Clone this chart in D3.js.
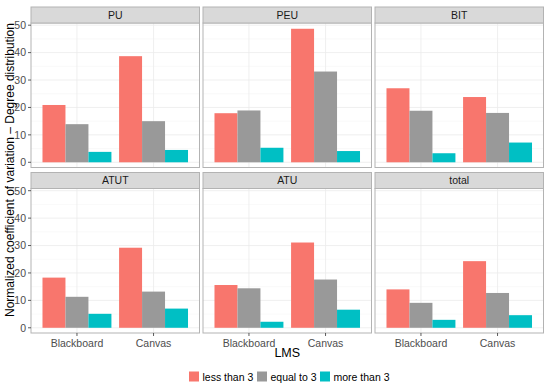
<!DOCTYPE html>
<html>
<head>
<meta charset="utf-8">
<script src="https://cdn.jsdelivr.net/npm/d3@7"></script>
<style>
	body { margin: 0; background: #fff; }
	text { font-family: "Liberation Sans", Arial, sans-serif; }
</style>
</head>
<body>
<div class="chart"></div>
<script>
const facets = ['PU', 'PEU', 'BIT', 'ATUT', 'ATU', 'total'];
const lms = ['Blackboard', 'Canvas'];
const groups = ['less than 3', 'equal to 3', 'more than 3'];
const colors = ['#F8766D', '#999999', '#00BFC4'];
const yTicks = [0, 10, 20, 30, 40, 50];

// values per facet: [Blackboard, Canvas]
const lessThan3 = [[20.9, 38.7], [17.9, 48.7], [27.0, 23.8], [18.3, 29.2], [15.6, 31.1], [14.0, 24.3]];
const equalTo3 = [[13.9, 15.0], [18.9, 33.1], [18.8, 18.0], [11.3, 13.2], [14.4, 17.6], [9.1, 12.7]];
const moreThan3 = [[3.8, 4.5], [5.3, 4.1], [3.3, 7.2], [5.1, 7.0], [2.2, 6.6], [2.9, 4.6]];

const series = [lessThan3, equalTo3, moreThan3];

const width = 550;
const height = 389;
const svg = d3.select('.chart')
	.append('svg')
	.attr('width', width)
	.attr('height', height);

const colX = [31, 203, 375];
const panelW = 168.5;
const rowY = [7, 172.5];
const stripH = 16;
const panelH = 144.5;

// ggplot discrete: 0.6 units expansion each side, bars 0.9 wide
const x = d3.scalePoint()
	.domain(lms)
	.range([0.6 * panelW / 2.2, 1.6 * panelW / 2.2]);
const unit = panelW / 2.2;
const xSub = d3.scaleBand().domain(groups).range([-0.45 * unit, 0.45 * unit]);

const y = d3.scaleLinear().domain([-1.9, 50.8]).range([panelH, 0]);
const yMinor = [5, 15, 25, 35, 45];

facets.forEach(function(f, fi) {
	const col = fi % 3;
	const row = Math.floor(fi / 3);
	const g = svg.append('g')
		.attr('transform', 'translate(' + colX[col] + ',' + (rowY[row] + stripH) + ')');

	// strip
	svg.append('rect')
		.attr('x', colX[col])
		.attr('y', rowY[row])
		.attr('width', panelW)
		.attr('height', stripH)
		.attr('fill', '#D9D9D9')
		.attr('stroke', '#B3B3B3')
		.attr('stroke-width', 1);
	svg.append('text')
		.attr('x', colX[col] + panelW / 2)
		.attr('y', rowY[row] + stripH / 2 + 3.7)
		.attr('text-anchor', 'middle')
		.attr('font-size', '10.5px')
		.attr('fill', '#1A1A1A')
		.text(f);

	// grid
	g.selectAll('.minor')
		.data(yMinor)
		.enter()
		.append('line')
		.attr('x1', 0).attr('x2', panelW)
		.attr('y1', function(d) { return y(d); })
		.attr('y2', function(d) { return y(d); })
		.attr('stroke', '#F2F2F2')
		.attr('stroke-width', 0.5);
	g.selectAll('.major')
		.data(yTicks)
		.enter()
		.append('line')
		.attr('x1', 0).attr('x2', panelW)
		.attr('y1', function(d) { return y(d); })
		.attr('y2', function(d) { return y(d); })
		.attr('stroke', '#EBEBEB')
		.attr('stroke-width', 0.8);
	g.selectAll('.vgrid')
		.data(lms)
		.enter()
		.append('line')
		.attr('x1', function(d) { return x(d); })
		.attr('x2', function(d) { return x(d); })
		.attr('y1', 0).attr('y2', panelH)
		.attr('stroke', '#EBEBEB')
		.attr('stroke-width', 0.8);

	// bars
	series.forEach(function(s, si) {
		g.selectAll('.bar' + si)
			.data(s[fi])
			.enter()
			.append('rect')
			.attr('x', function(d, i) { return x(lms[i]) + xSub(groups[si]); })
			.attr('y', function(d) { return y(d); })
			.attr('width', xSub.bandwidth())
			.attr('height', function(d) { return y(0) - y(d); })
			.attr('fill', colors[si]);
	});

	// border
	g.append('rect')
		.attr('width', panelW)
		.attr('height', panelH)
		.attr('fill', 'none')
		.attr('stroke', '#B3B3B3')
		.attr('stroke-width', 1);

	// y axis on left column
	if (col == 0) {
		g.selectAll('.ytick')
			.data(yTicks)
			.enter()
			.append('line')
			.attr('x1', -3).attr('x2', 0)
			.attr('y1', function(d) { return y(d); })
			.attr('y2', function(d) { return y(d); })
			.attr('stroke', '#333333')
			.attr('stroke-width', 0.8);
		g.selectAll('.ylab')
			.data(yTicks)
			.enter()
			.append('text')
			.attr('x', -5)
			.attr('y', function(d) { return y(d) + 3.8; })
			.attr('text-anchor', 'end')
			.attr('font-size', '10.5px')
			.attr('fill', '#4D4D4D')
			.text(function(d) { return d; });
	}

	// x axis on bottom row
	if (row == 1) {
		g.selectAll('.xtick')
			.data(lms)
			.enter()
			.append('line')
			.attr('x1', function(d) { return x(d); })
			.attr('x2', function(d) { return x(d); })
			.attr('y1', panelH).attr('y2', panelH + 3)
			.attr('stroke', '#333333')
			.attr('stroke-width', 0.8);
		g.selectAll('.xlab')
			.data(lms)
			.enter()
			.append('text')
			.attr('x', function(d) { return x(d); })
			.attr('y', panelH + 14)
			.attr('text-anchor', 'middle')
			.attr('font-size', '10.5px')
			.attr('fill', '#4D4D4D')
			.text(function(d) { return d; });
	}
});

// axis titles
svg.append('text')
	.attr('x', (colX[0] + colX[2] + panelW) / 2)
	.attr('y', 357)
	.attr('text-anchor', 'middle')
	.attr('font-size', '12.5px')
	.attr('fill', '#000')
	.text('LMS');
svg.append('text')
	.attr('transform', 'translate(14,170) rotate(-90)')
	.attr('text-anchor', 'middle')
	.attr('font-size', '12px')
	.attr('fill', '#000')
	.text('Normalized coefficient of variation \u2013 Degree distribution');

// legend
const legendX = [189, 257, 320];
const legend = svg.selectAll('.legend')
	.data(groups)
	.enter()
	.append('g')
	.attr('class', 'legend')
	.attr('transform', function(d, i) { return 'translate(' + legendX[i] + ',371.5)'; });
legend.append('rect')
	.attr('width', 10)
	.attr('height', 10)
	.attr('fill', function(d, i) { return colors[i]; });
legend.append('text')
	.attr('x', 13.5)
	.attr('y', 9)
	.attr('font-size', '10.5px')
	.attr('fill', '#000')
	.text(function(d) { return d; });
</script>
</body>
</html>
